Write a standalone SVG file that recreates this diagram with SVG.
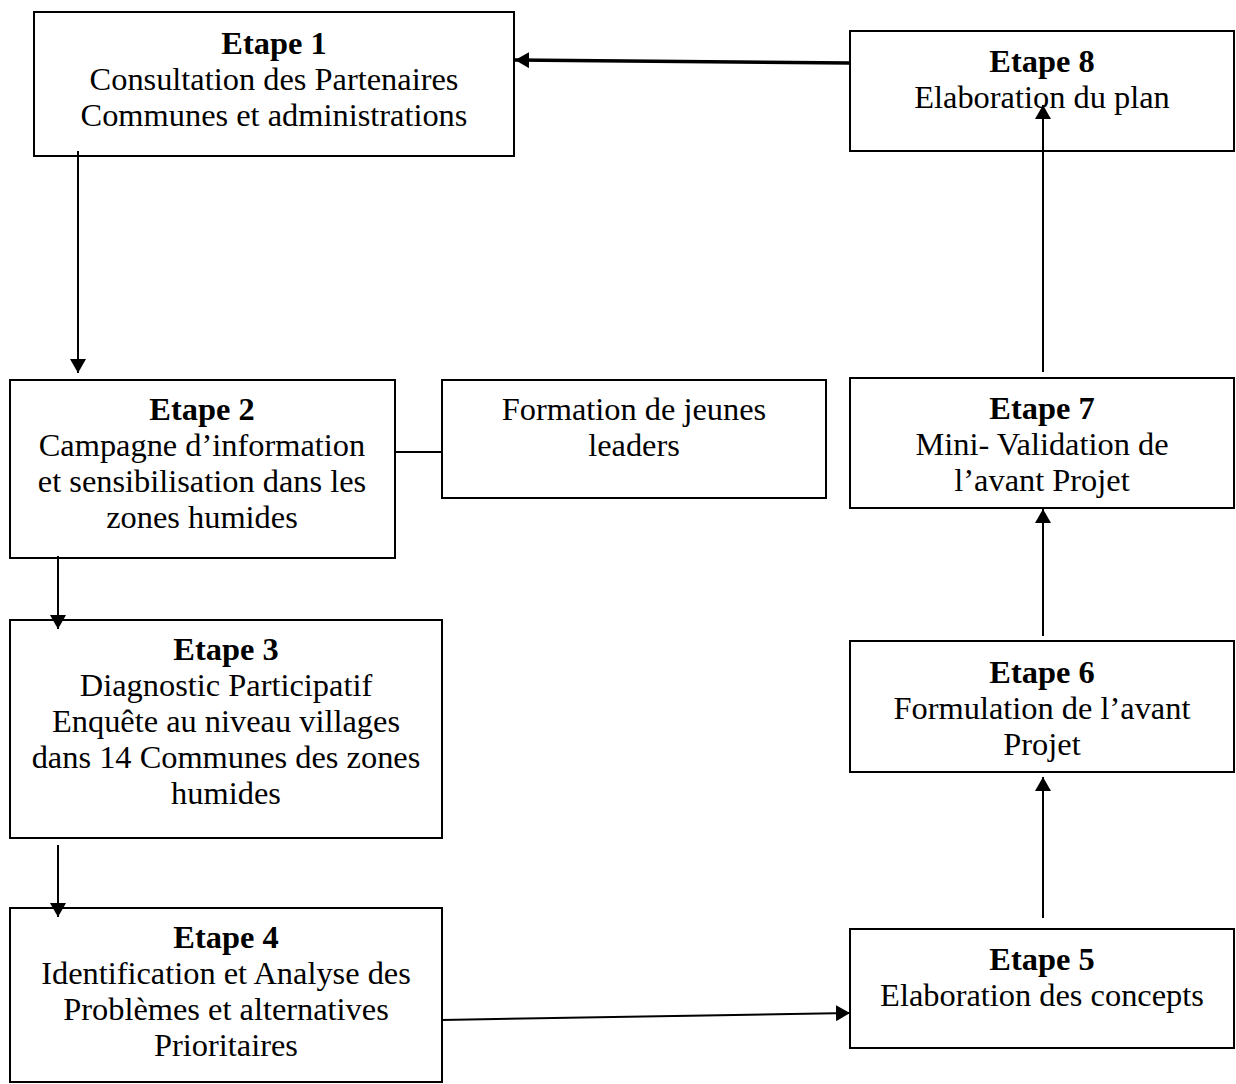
<svg xmlns="http://www.w3.org/2000/svg" width="1236" height="1084" viewBox="0 0 1236 1084">
<style>
.box{fill:#fff;stroke:#000;stroke-width:2}
text{font-family:"Liberation Serif","Times New Roman",serif;font-size:32.4px;fill:#000;text-anchor:middle}
.t{font-weight:bold}
.c{fill:none;stroke:#000;stroke-width:2}
.ct{fill:none;stroke:#000;stroke-width:3.5}
</style>
<defs>
<marker id="ah" markerUnits="userSpaceOnUse" markerWidth="14" markerHeight="16" viewBox="0 0 14 16" refX="14" refY="8" orient="auto">
<path d="M0,0 L14,8 L0,16 Z" fill="#000"/>
</marker>
</defs>
<rect width="1236" height="1084" fill="#fff"/>
<g id="n1"><rect class="box" x="34" y="12" width="480" height="144"/>
<text x="274" y="54" class="t">Etape 1</text><text x="274" y="90">Consultation des Partenaires</text><text x="274" y="126">Communes et administrations</text></g>
<g id="n8"><rect class="box" x="850" y="31" width="384" height="120"/>
<text x="1042" y="72" class="t">Etape 8</text><text x="1042" y="108">Elaboration du plan</text></g>
<g id="n2"><rect class="box" x="10" y="380" width="385" height="178"/>
<text x="202" y="420" class="t">Etape 2</text><text x="202" y="456">Campagne d’information</text><text x="202" y="492">et sensibilisation dans les</text><text x="202" y="528">zones humides</text></g>
<g id="nf"><rect class="box" x="442" y="380" width="384" height="118"/>
<text x="634" y="420">Formation de jeunes</text><text x="634" y="456">leaders</text></g>
<g id="n3"><rect class="box" x="10" y="620" width="432" height="218"/>
<text x="226" y="660" class="t">Etape 3</text><text x="226" y="696">Diagnostic Participatif</text><text x="226" y="732">Enquête au niveau villages</text><text x="226" y="768">dans 14 Communes des zones</text><text x="226" y="804">humides</text></g>
<g id="n4"><rect class="box" x="10" y="908" width="432" height="174"/>
<text x="226" y="948" class="t">Etape 4</text><text x="226" y="984">Identification et Analyse des</text><text x="226" y="1020">Problèmes et alternatives</text><text x="226" y="1056">Prioritaires</text></g>
<g id="n5"><rect class="box" x="850" y="929" width="384" height="119"/>
<text x="1042" y="970" class="t">Etape 5</text><text x="1042" y="1006">Elaboration des concepts</text></g>
<g id="n6"><rect class="box" x="850" y="641" width="384" height="131"/>
<text x="1042" y="683" class="t">Etape 6</text><text x="1042" y="719">Formulation de l’avant</text><text x="1042" y="755">Projet</text></g>
<g id="n7"><rect class="box" x="850" y="378" width="384" height="130"/>
<text x="1042" y="419" class="t">Etape 7</text><text x="1042" y="455">Mini- Validation de</text><text x="1042" y="491">l’avant Projet</text></g>
<g id="connectors">
<line class="ct" x1="850" y1="63" x2="515" y2="60" marker-end="url(#ah)"/>
<line class="c" x1="78" y1="151" x2="78" y2="373" marker-end="url(#ah)"/>
<line class="c" x1="395" y1="452" x2="442" y2="452"/>
<line class="c" x1="58" y1="556" x2="58" y2="629" marker-end="url(#ah)"/>
<line class="c" x1="58" y1="845" x2="58" y2="917" marker-end="url(#ah)"/>
<line class="c" x1="442" y1="1020" x2="850" y2="1013" marker-end="url(#ah)"/>
<line class="c" x1="1043" y1="918" x2="1043" y2="777" marker-end="url(#ah)"/>
<line class="c" x1="1043" y1="636" x2="1043" y2="509" marker-end="url(#ah)"/>
<line class="c" x1="1043" y1="372" x2="1043" y2="105" marker-end="url(#ah)"/>
</g>
</svg>
